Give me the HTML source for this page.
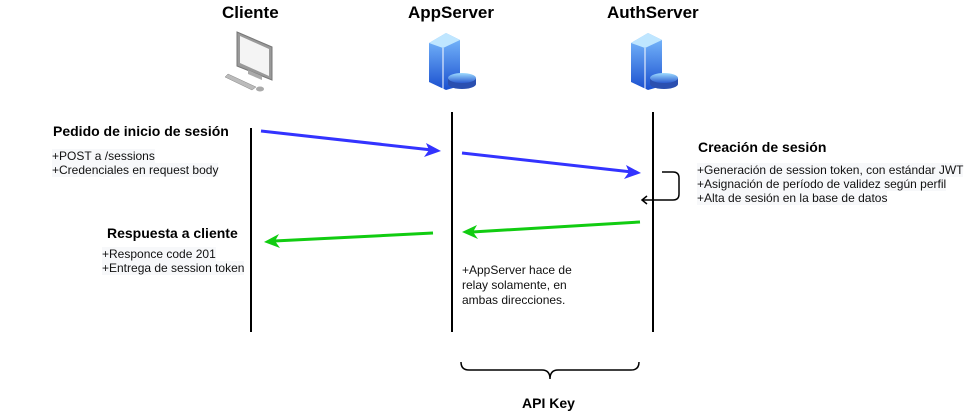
<!DOCTYPE html>
<html><head><meta charset="utf-8"><style>
body{margin:0;width:971px;height:413px;background:#fff;overflow:hidden;font-family:"Liberation Sans",Arial,sans-serif;}
.t{position:absolute;font-weight:bold;font-size:14px;color:#000;white-space:nowrap}
.h{position:absolute;font-weight:bold;font-size:17px;white-space:nowrap}
.s{position:absolute;font-size:12px;line-height:14px;white-space:nowrap;color:#111}
.s span{background:#f7f8fa}
</style></head><body>
<div class="h" style="left:222px;top:3px">Cliente</div>
<div class="h" style="left:408px;top:3px">AppServer</div>
<div class="h" style="left:607px;top:3px">AuthServer</div>
<div class="t" style="left:53px;top:123px">Pedido de inicio de sesión</div>
<div class="s" style="left:52px;top:149px"><span>+POST a /sessions</span><br><span>+Credenciales en request body</span></div>
<div class="t" style="left:107px;top:225px">Respuesta a cliente</div>
<div class="s" style="left:102px;top:247px"><span>+Responce code 201</span><br><span>+Entrega de session token</span></div>
<div class="t" style="left:698px;top:139px">Creación de sesión</div>
<div class="s" style="left:697px;top:163px"><span>+Generación de session token, con estándar JWT</span><br><span>+Asignación de período de validez según perfil</span><br><span>+Alta de sesión en la base de datos</span></div>
<div class="s" style="left:462px;top:263px;line-height:15px">+AppServer hace de<br>relay solamente, en<br>ambas direcciones.</div>
<div class="t" style="left:522px;top:395px">API Key</div>
<svg width="971" height="413" style="position:absolute;left:0;top:0">
<defs>
<linearGradient id="g" x1="0" y1="0" x2="0" y2="1"><stop offset="0" stop-color="#7fc0ff"/><stop offset="1" stop-color="#1a4fcf"/></linearGradient>
<linearGradient id="g2" x1="0" y1="0" x2="0" y2="1"><stop offset="0" stop-color="#9fdcff"/><stop offset="1" stop-color="#2a5bd0"/></linearGradient>
</defs>
<g>
<polygon points="237,32 272,47 272,80 237,66" fill="#999" stroke="#777"/>
<polygon points="240,36 269,49 269,76 240,63" fill="#f4f4f4"/>
<polygon points="248,70 262,76 262,80 248,74" fill="#aaa"/>
<polygon points="228,74 256,87 252,90 225,77" fill="#bbb" stroke="#888" stroke-width="0.5"/>
<ellipse cx="260" cy="89" rx="4" ry="2.5" fill="#aaa"/>
</g>
<g id="srv">
<polygon points="429,43 446,33 460,40 460,86 446,90 429,82" fill="url(#g)"/>
<polygon points="429,43 446,33 460,40 443,48" fill="#bfe6ff"/>
<line x1="443" y1="48" x2="443" y2="90" stroke="#fff" stroke-width="1"/>
<ellipse cx="462" cy="84" rx="14" ry="5" fill="#2a4fb0"/>
<rect x="448" y="78" width="28" height="6" fill="#2a4fb0"/>
<ellipse cx="462" cy="78" rx="14" ry="5" fill="url(#g2)"/>
</g>
<use href="#srv" x="202" y="0"/>
<g stroke="#000" stroke-width="2">
<line x1="251" y1="128" x2="251" y2="332"/>
<line x1="452" y1="112" x2="452" y2="332"/>
<line x1="653" y1="112" x2="653" y2="332"/>
</g>
<g stroke="#3333ff" stroke-width="3" fill="#3333ff">
<line x1="261" y1="131" x2="432" y2="150"/>
<line x1="462" y1="153" x2="632" y2="172"/>
</g>
<polygon points="441,151 426,143 429,150 424,157" fill="#3333ff"/>
<polygon points="641,173 626,165 629,172 624,179" fill="#3333ff"/>
<g stroke="#11cc11" stroke-width="3">
<line x1="640" y1="222" x2="472" y2="232"/>
<line x1="433" y1="233" x2="274" y2="241"/>
</g>
<polygon points="462,232 477,225 473,232 478,239" fill="#11cc11"/>
<polygon points="264,242 279,234 275,241 280,248" fill="#11cc11"/>
<path d="M662,172 H673 Q679,172 679,178 V194 Q679,200 673,200 H643" fill="none" stroke="#000" stroke-width="1.5"/>
<polyline points="647,196 642,200 647,204" fill="none" stroke="#000" stroke-width="1.5"/>
<path d="M461,362 Q461,370 469,370 H542 Q550,370 550,379 Q550,370 558,370 H631 Q639,370 639,362" fill="none" stroke="#000" stroke-width="1.5"/>
</svg>
</body></html>
